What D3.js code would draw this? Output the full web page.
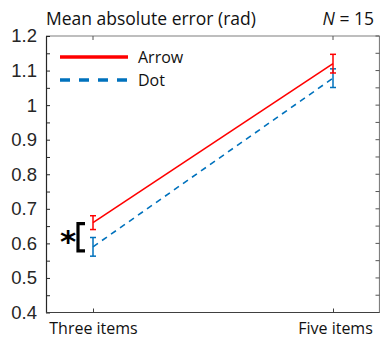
<!DOCTYPE html>
<html>
<head>
<meta charset="utf-8">
<script src="https://cdn.jsdelivr.net/npm/d3@7"></script>
<style>
  body { margin: 0; background: #fff; }
  svg { display: block; }
</style>
</head>
<body>
<div id="container"></div>
<script>
// Data
const categories = ["Three items", "Five items"];
const arrowMean = [0.66, 1.12];
const arrowErr = [0.02, 0.027];
const dotMean = [0.59, 1.078];
const dotErr = [0.027, 0.027];
const yTicks = [0.4, 0.5, 0.6, 0.7, 0.8, 0.9, 1, 1.1, 1.2];

const width = 380, height = 339;
const plotLeft = 46, plotRight = 379.5, plotTop = 36, plotBottom = 312.5;

const svg = d3.select("#container")
  .append("svg")
  .attr("width", width)
  .attr("height", height);

const x = d3.scalePoint().domain(categories).range([93, 333]);
const y = d3.scaleLinear().domain([0.4, 1.2]).range([plotBottom, plotTop]);

const minorTicks = d3.range(0.4, 1.2001, 0.05);

// top + right box lines
svg.append("line")
  .attr("x1", plotLeft).attr("x2", plotRight).attr("y1", plotTop).attr("y2", plotTop)
  .attr("stroke", "#7f7f7f").attr("stroke-width", 1.2);
svg.append("line")
  .attr("x1", plotRight).attr("x2", plotRight).attr("y1", plotTop).attr("y2", plotBottom)
  .attr("stroke", "#7f7f7f").attr("stroke-width", 1.2);

// right side ticks
svg.append("g")
  .selectAll("line")
  .data(minorTicks)
  .enter().append("line")
  .attr("x1", plotRight - 4).attr("x2", plotRight)
  .attr("y1", d => y(d)).attr("y2", d => y(d))
  .attr("stroke", "#555");

// top ticks
svg.append("g")
  .selectAll("line")
  .data(categories)
  .enter().append("line")
  .attr("x1", d => x(d)).attr("x2", d => x(d))
  .attr("y1", plotTop).attr("y2", plotTop + 4)
  .attr("stroke", "#555");

// left axis
const yAxis = d3.axisLeft(y)
  .tickValues(minorTicks)
  .tickSizeInner(-4)
  .tickSizeOuter(0)
  .tickFormat(d => {
    const r = Math.round(d * 100) / 100;
    return yTicks.some(t => Math.abs(t - r) < 1e-6) ? d3.format("~g")(r) : "";
  })
  .tickPadding(9);

const gy = svg.append("g")
  .attr("transform", `translate(${plotLeft},0)`)
  .call(yAxis);
gy.select(".domain").attr("stroke", "#262626").attr("stroke-width", 1.2);
gy.selectAll(".tick line").attr("stroke", "#262626");
gy.selectAll(".tick text")
  .attr("fill", "#262626")
  .style("font-family", "'Liberation Sans', Arial, sans-serif")
  .style("font-size", "18.5px");

// bottom axis
const xAxis = d3.axisBottom(x)
  .tickSizeInner(-4)
  .tickSizeOuter(0)
  .tickPadding(10);

const gx = svg.append("g")
  .attr("transform", `translate(0,${plotBottom})`)
  .call(xAxis);
gx.select(".domain").attr("d", `M${plotLeft},0H${plotRight}`).attr("stroke", "#404040").attr("stroke-width", 1.2);
gx.selectAll(".tick line").attr("stroke", "#404040");
gx.selectAll(".tick text")
  .attr("fill", "#111")
  .style("font-family", "'Open Sans', sans-serif")
  .style("font-size", "16px");
gx.selectAll(".tick text").filter(d => d === "Five items").attr("dx", 2);

// lines
const line = d3.line()
  .x((d, i) => x(categories[i]))
  .y(d => y(d));

svg.append("path")
  .datum(dotMean)
  .attr("d", line)
  .attr("fill", "none")
  .attr("stroke", "#0072bd")
  .attr("stroke-width", 1.6)
  .attr("stroke-dasharray", "6,5");

svg.append("path")
  .datum(arrowMean)
  .attr("d", line)
  .attr("fill", "none")
  .attr("stroke", "#ff0000")
  .attr("stroke-width", 1.6);

// error bars
function errorBars(means, errs, color) {
  const g = svg.append("g").attr("stroke", color).attr("stroke-width", 1.5);
  means.forEach((m, i) => {
    const cx = x(categories[i]);
    g.append("line")
      .attr("x1", cx).attr("x2", cx)
      .attr("y1", y(m - errs[i])).attr("y2", y(m + errs[i]));
    [m - errs[i], m + errs[i]].forEach(v => {
      g.append("line")
        .attr("x1", cx - 3).attr("x2", cx + 3)
        .attr("y1", y(v)).attr("y2", y(v));
    });
  });
}
errorBars(dotMean, dotErr, "#0072bd");
errorBars(arrowMean, arrowErr, "#ff0000");

// significance marker
const bx = 85;
svg.append("path")
  .attr("d", `M${bx},${y(arrowMean[0]) + 1}H${bx - 7}V${y(dotMean[0]) + 4}H${bx}`)
  .attr("fill", "none")
  .attr("stroke", "#000")
  .attr("stroke-width", 3.2);
svg.append("text")
  .attr("x", 68)
  .attr("y", y((arrowMean[0] + dotMean[0]) / 2) + 17)
  .attr("text-anchor", "middle")
  .style("font-family", "'DejaVu Sans', sans-serif")
  .style("font-weight", "bold")
  .style("font-size", "31px")
  .text("*");

// legend
const legend = [
  {label: "Arrow", color: "#ff0000", dash: null, yy: 57},
  {label: "Dot", color: "#0072bd", dash: "10,9", yy: 80}
];
const lg = svg.append("g");
legend.forEach(d => {
  lg.append("line")
    .attr("x1", 60).attr("x2", 128)
    .attr("y1", d.yy).attr("y2", d.yy)
    .attr("stroke", d.color)
    .attr("stroke-width", 3.5)
    .attr("stroke-dasharray", d.dash);
  lg.append("text")
    .attr("x", 138).attr("y", d.yy + 6)
    .style("font-family", "'Open Sans', sans-serif")
    .style("font-size", "16px")
    .attr("fill", "#111")
    .text(d.label);
});

// title
svg.append("text")
  .attr("x", plotLeft).attr("y", 25)
  .style("font-family", "'Open Sans', sans-serif")
  .style("font-size", "17.5px")
  .attr("fill", "#111")
  .text("Mean absolute error (rad)");

const nt = svg.append("text")
  .attr("x", 374).attr("y", 25)
  .attr("text-anchor", "end")
  .style("font-family", "'Open Sans', sans-serif")
  .style("font-size", "17.5px")
  .attr("fill", "#111");
nt.append("tspan").style("font-style", "italic").text("N");
nt.append("tspan").text(" = 15");
</script>
</body>
</html>
